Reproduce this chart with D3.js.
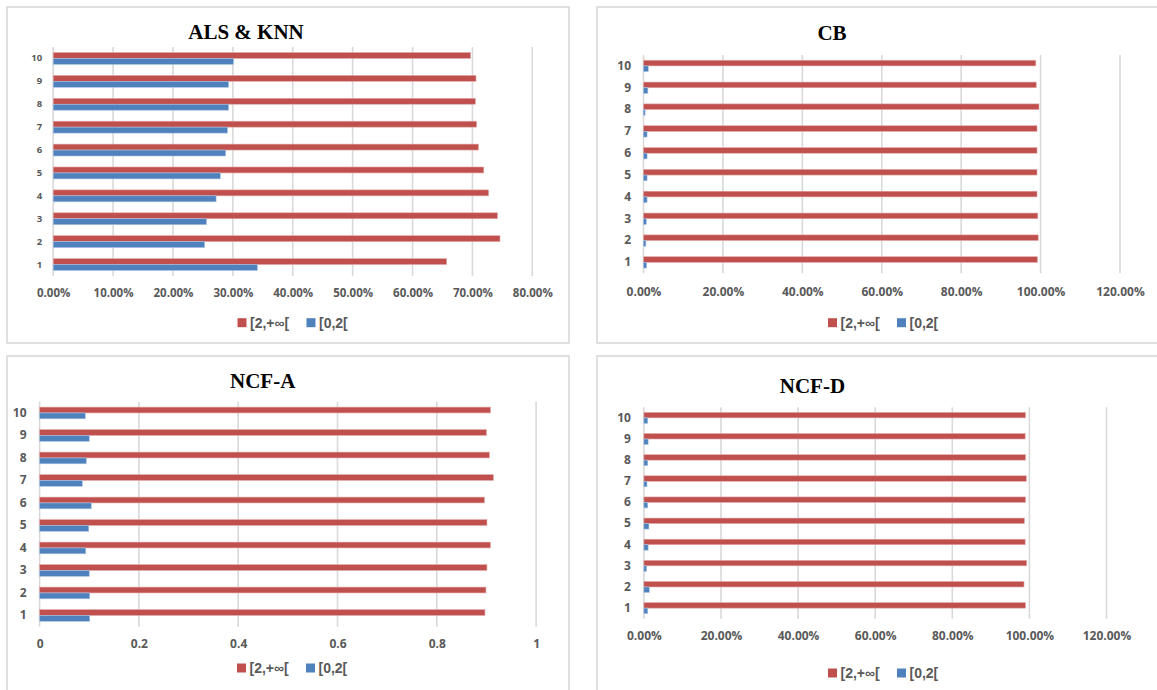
<!DOCTYPE html>
<html>
<head>
<meta charset="utf-8">
<script src="https://cdn.jsdelivr.net/npm/d3@7"></script>
<style>
  html, body { margin: 0; padding: 0; background: #ffffff; }
  svg { display: block; }
</style>
</head>
<body>
<svg id="chart" width="1157" height="690"></svg>
<script>
// ---- data ----------------------------------------------------------------
const categories = ["1", "2", "3", "4", "5", "6", "7", "8", "9", "10"];
const seriesNames = ["[2,+∞[", "[0,2["];

// ALS & KNN (shares)
const alsKnnHigh = [0.657, 0.746, 0.742, 0.727, 0.719, 0.710, 0.707, 0.705, 0.706, 0.697];
const alsKnnLow  = [0.341, 0.253, 0.256, 0.272, 0.279, 0.288, 0.291, 0.293, 0.293, 0.301];

// CB (shares)
const cbHigh = [0.992, 0.994, 0.993, 0.991, 0.991, 0.991, 0.991, 0.996, 0.989, 0.988];
const cbLow  = [0.008, 0.006, 0.007, 0.009, 0.009, 0.009, 0.009, 0.004, 0.011, 0.012];

// NCF-A (fractions)
const ncfAHigh = [0.897, 0.899, 0.901, 0.908, 0.901, 0.896, 0.914, 0.906, 0.900, 0.908];
const ncfALow  = [0.101, 0.101, 0.100, 0.093, 0.099, 0.104, 0.086, 0.094, 0.100, 0.092];

// NCF-D (shares)
const ncfDHigh = [0.990, 0.986, 0.993, 0.989, 0.987, 0.990, 0.992, 0.990, 0.989, 0.990];
const ncfDLow  = [0.010, 0.014, 0.007, 0.011, 0.013, 0.010, 0.008, 0.010, 0.011, 0.010];

// x-axis ticks
const pctTicks80  = [0, 0.1, 0.2, 0.3, 0.4, 0.5, 0.6, 0.7, 0.8];
const pctTicks120 = [0, 0.2, 0.4, 0.6, 0.8, 1.0, 1.2];
const decTicks    = [0, 0.2, 0.4, 0.6, 0.8, 1];

// ---- styling ---------------------------------------------------------------
const RED = "#C0504D", BLUE = "#4F81BD";
const GRID = "#D9D9D9", TEXT = "#595959";
const TICK_FONT = "'Open Sans', 'Liberation Sans', sans-serif";
const LEGEND_FONT = "'Liberation Sans', 'DejaVu Sans', sans-serif";
const TITLE_FONT = "'Liberation Serif', 'DejaVu Serif', serif";

const pct = d3.format(".2%");
const dec = d => String(d);

const panels = [
  { title: "ALS & KNN", high: alsKnnHigh, low: alsKnnLow, ticks: pctTicks80, fmt: pct,
    box: [7, 7, 562, 336], titleX: 246, titleY: 32,
    left: 53.2, right: 532.3, top: 47, bottom: 276, max: 0.8,
    xPad: 12.8, xFont: 11.5, yFont: 9.5, yPad: 11, legX: 237.5, legY: 322.7 },
  { title: "CB", high: cbHigh, low: cbLow, ticks: pctTicks120, fmt: pct,
    box: [597, 7, 562, 336], titleX: 832, titleY: 33,
    left: 643.5, right: 1120, top: 55, bottom: 273.3, max: 1.2,
    xPad: 14.5, xFont: 12, yFont: 12, yPad: 12.5, legX: 828, legY: 322.7 },
  { title: "NCF-A", high: ncfAHigh, low: ncfALow, ticks: decTicks, fmt: dec,
    box: [7, 356, 562, 340], titleX: 262.7, titleY: 381,
    left: 39.6, right: 536.1, top: 401.7, bottom: 626.7, max: 1,
    xPad: 13, xFont: 12, yFont: 12, yPad: 13, legX: 237, legY: 668 },
  { title: "NCF-D", high: ncfDHigh, low: ncfDLow, ticks: pctTicks120, fmt: pct,
    box: [597, 356, 562, 340], titleX: 812.4, titleY: 386,
    left: 643.9, right: 1106.5, top: 407.3, bottom: 618.7, max: 1.2,
    xPad: 13, xFont: 12, yFont: 12, yPad: 13, legX: 828, legY: 673 }
];

const svg = d3.select("#chart");

panels.forEach(p => {
  const g = svg.append("g");

  // frame
  g.append("rect")
    .attr("x", p.box[0]).attr("y", p.box[1])
    .attr("width", p.box[2]).attr("height", p.box[3])
    .attr("fill", "#fff").attr("stroke", GRID).attr("stroke-width", 1.6);

  // title
  g.append("text")
    .attr("x", p.titleX).attr("y", p.titleY)
    .attr("text-anchor", "middle").attr("dominant-baseline", "central")
    .attr("font-family", TITLE_FONT).attr("font-weight", "bold")
    .attr("font-size", 21).attr("fill", "#000")
    .text(p.title);

  const x = d3.scaleLinear().domain([0, p.max]).range([p.left, p.right]);
  const y = d3.scaleBand().domain(categories.slice().reverse())
    .range([p.top, p.bottom]).paddingInner(0.48).paddingOuter(0.24);
  const sub = d3.scaleBand().domain(["high", "low"]).range([0, y.bandwidth()]);

  // vertical gridlines
  g.append("g").selectAll("line").data(p.ticks).join("line")
    .attr("x1", d => x(d)).attr("x2", d => x(d))
    .attr("y1", p.top).attr("y2", p.bottom)
    .attr("stroke", GRID).attr("stroke-width", 1.6);

  // x axis labels
  const xAxis = g.append("g")
    .attr("transform", `translate(0,${p.bottom})`)
    .call(d3.axisBottom(x).tickValues(p.ticks).tickFormat(p.fmt).tickSize(0).tickPadding(p.xPad));
  xAxis.select(".domain").remove();
  xAxis.selectAll("text")
    .attr("font-family", TICK_FONT).attr("font-weight", 700)
    .attr("font-size", p.xFont).attr("fill", TEXT);

  // y axis labels
  const yAxis = g.append("g")
    .attr("transform", `translate(${p.left},0)`)
    .call(d3.axisLeft(y).tickSize(0).tickPadding(p.yPad));
  yAxis.select(".domain").remove();
  yAxis.selectAll("text")
    .attr("font-family", TICK_FONT).attr("font-weight", 700)
    .attr("font-size", p.yFont).attr("fill", TEXT);

  // bars
  const rows = categories.map((c, i) => ({ c, high: p.high[i], low: p.low[i] }));
  const grp = g.append("g").selectAll("g").data(rows).join("g")
    .attr("transform", d => `translate(0,${y(d.c)})`);
  grp.append("rect")
    .attr("x", x(0)).attr("y", sub("high"))
    .attr("width", d => x(d.high) - x(0)).attr("height", sub.bandwidth())
    .attr("fill", RED).attr("stroke", "#E2A9A8").attr("stroke-width", 0.6);
  grp.append("rect")
    .attr("x", x(0)).attr("y", sub("low"))
    .attr("width", d => x(d.low) - x(0)).attr("height", sub.bandwidth())
    .attr("fill", BLUE).attr("stroke", "#A9C2E2").attr("stroke-width", 0.6);

  // legend
  const leg = g.append("g").attr("transform", `translate(${p.legX},${p.legY})`);
  const items = [
    { name: seriesNames[0], color: RED, dx: 0 },
    { name: seriesNames[1], color: BLUE, dx: 69 }
  ];
  items.forEach(it => {
    leg.append("rect").attr("x", it.dx).attr("y", -4.5)
      .attr("width", 9).attr("height", 9).attr("fill", it.color);
    leg.append("text").attr("x", it.dx + 12.5).attr("y", 0)
      .attr("dominant-baseline", "central")
      .attr("font-family", LEGEND_FONT).attr("font-weight", 700)
      .attr("font-size", 14).attr("fill", TEXT)
      .text(it.name);
  });
});
</script>
</body>
</html>
